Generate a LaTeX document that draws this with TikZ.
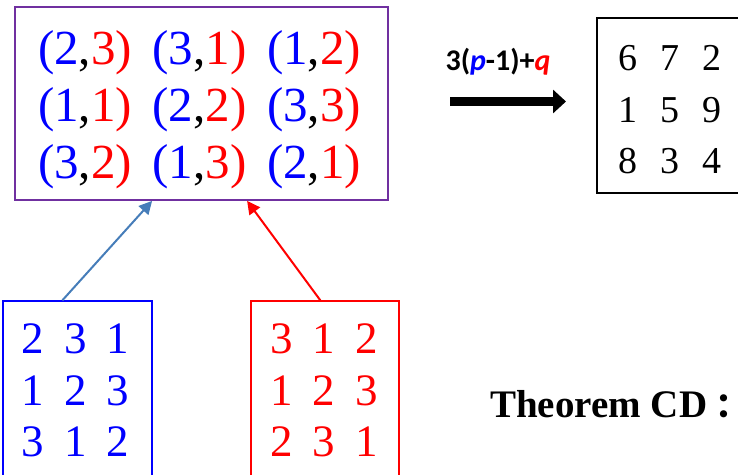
\documentclass[tikz,border=0pt]{standalone}
\usepackage{fontspec}
\setmainfont{Liberation Serif}
\newfontfamily\lblfont{Carlito}
\newfontfamily\cjk{Noto Sans CJK SC}
\usetikzlibrary{arrows.meta,calc}
\definecolor{boxpurple}{RGB}{112,48,160}
\definecolor{arrblue}{RGB}{70,125,185}
\newcommand\pr[2]{\textcolor{blue}{(#1},\textcolor{red}{#2)}}
\begin{document}
\begin{tikzpicture}[x=1pt,y=-1pt,
  pairtxt/.style={font=\fontsize{49}{49}\selectfont, anchor=base, inner sep=0pt},
  digb/.style={font=\fontsize{45}{45}\selectfont, anchor=base, inner sep=0pt, text=blue},
  digr/.style={font=\fontsize{45}{45}\selectfont, anchor=base, inner sep=0pt, text=red},
  digk/.style={font=\fontsize{38}{38}\selectfont, anchor=base, inner sep=0pt, text=black},
  boxnode/.style={rectangle, inner sep=0pt, line width=1.3pt}]
\useasboundingbox (0,0) rectangle (738,474);
\clip (0,0) rectangle (738,474);
% boxes
\node[boxnode, draw=boxpurple, line width=1.8pt, minimum width=373pt, minimum height=193pt] (pairs) at (201.5,103.5) {};
\node[boxnode, draw=blue, minimum width=149pt, minimum height=190pt] (bluebox) at (77.5,396) {};
\node[boxnode, draw=red, minimum width=148pt, minimum height=190pt] (redbox) at (325,396) {};
\node[boxnode, draw=black, minimum width=160pt, minimum height=175pt] (magic) at (677,105.5) {};
% pairs
\node[pairtxt] (p11) at (85,64) {\pr{2}{3}};
\node[pairtxt] (p12) at (199.5,64) {\pr{3}{1}};
\node[pairtxt] (p13) at (314,64) {\pr{1}{2}};
\node[pairtxt] (p21) at (85,121) {\pr{1}{1}};
\node[pairtxt] (p22) at (199.5,121) {\pr{2}{2}};
\node[pairtxt] (p23) at (314,121) {\pr{3}{3}};
\node[pairtxt] (p31) at (85,178) {\pr{3}{2}};
\node[pairtxt] (p32) at (199.5,178) {\pr{1}{3}};
\node[pairtxt] (p33) at (314,178) {\pr{2}{1}};
% blue square
\node[digb] (b11) at (33,353) {2};
\node[digb] (b12) at (76,353) {3};
\node[digb] (b13) at (118,353) {1};
\node[digb] (b21) at (33,405) {1};
\node[digb] (b22) at (76,405) {2};
\node[digb] (b23) at (118,405) {3};
\node[digb] (b31) at (33,456) {3};
\node[digb] (b32) at (76,456) {1};
\node[digb] (b33) at (118,456) {2};
% red square
\node[digr] (r11) at (282,353) {3};
\node[digr] (r12) at (324,353) {1};
\node[digr] (r13) at (367,353) {2};
\node[digr] (r21) at (282,405) {1};
\node[digr] (r22) at (324,405) {2};
\node[digr] (r23) at (367,405) {3};
\node[digr] (r31) at (282,456) {2};
\node[digr] (r32) at (324,456) {3};
\node[digr] (r33) at (367,456) {1};
% magic square
\node[digk] (m11) at (628,70) {6};
\node[digk] (m12) at (670,70) {7};
\node[digk] (m13) at (712,70) {2};
\node[digk] (m21) at (628,122) {1};
\node[digk] (m22) at (670,122) {5};
\node[digk] (m23) at (712,122) {9};
\node[digk] (m31) at (628,173) {8};
\node[digk] (m32) at (670,173) {3};
\node[digk] (m33) at (712,173) {4};
% connectors
\draw[arrblue, line width=2pt, -{Triangle[length=13pt,width=13pt]}]
  ($(bluebox.north west)+(60,0)$) -- ($(pairs.south west)+(138,0)$);
\draw[red, line width=2pt, -{Triangle[length=13pt,width=13pt]}]
  ($(redbox.north west)+(70,0)$) -- ($(pairs.south west)+(233,0)$);
% formula arrow
\coordinate (fa) at (450,101.5);
\coordinate (fb) at (566,101.5);
\draw[black, line width=9pt, -{Triangle[length=13pt,width=23pt]}] (fa) -- (fb);
\node[anchor=base, inner sep=0pt, font=\lblfont\bfseries\fontsize{30}{30}\selectfont] (formula) at (498,70)
  {3(\textcolor{blue}{\itshape p}-1)+\textcolor{red}{\itshape q}};
% theorem
\node[anchor=base west, inner sep=0pt, font=\bfseries\fontsize{39}{39}\selectfont] (thm) at (490,417)
  {Theorem CD\hspace{0.2em}\makebox[0.35em][l]{\cjk\bfseries\fontsize{34}{34}\selectfont ：}};
\end{tikzpicture}
\end{document}
